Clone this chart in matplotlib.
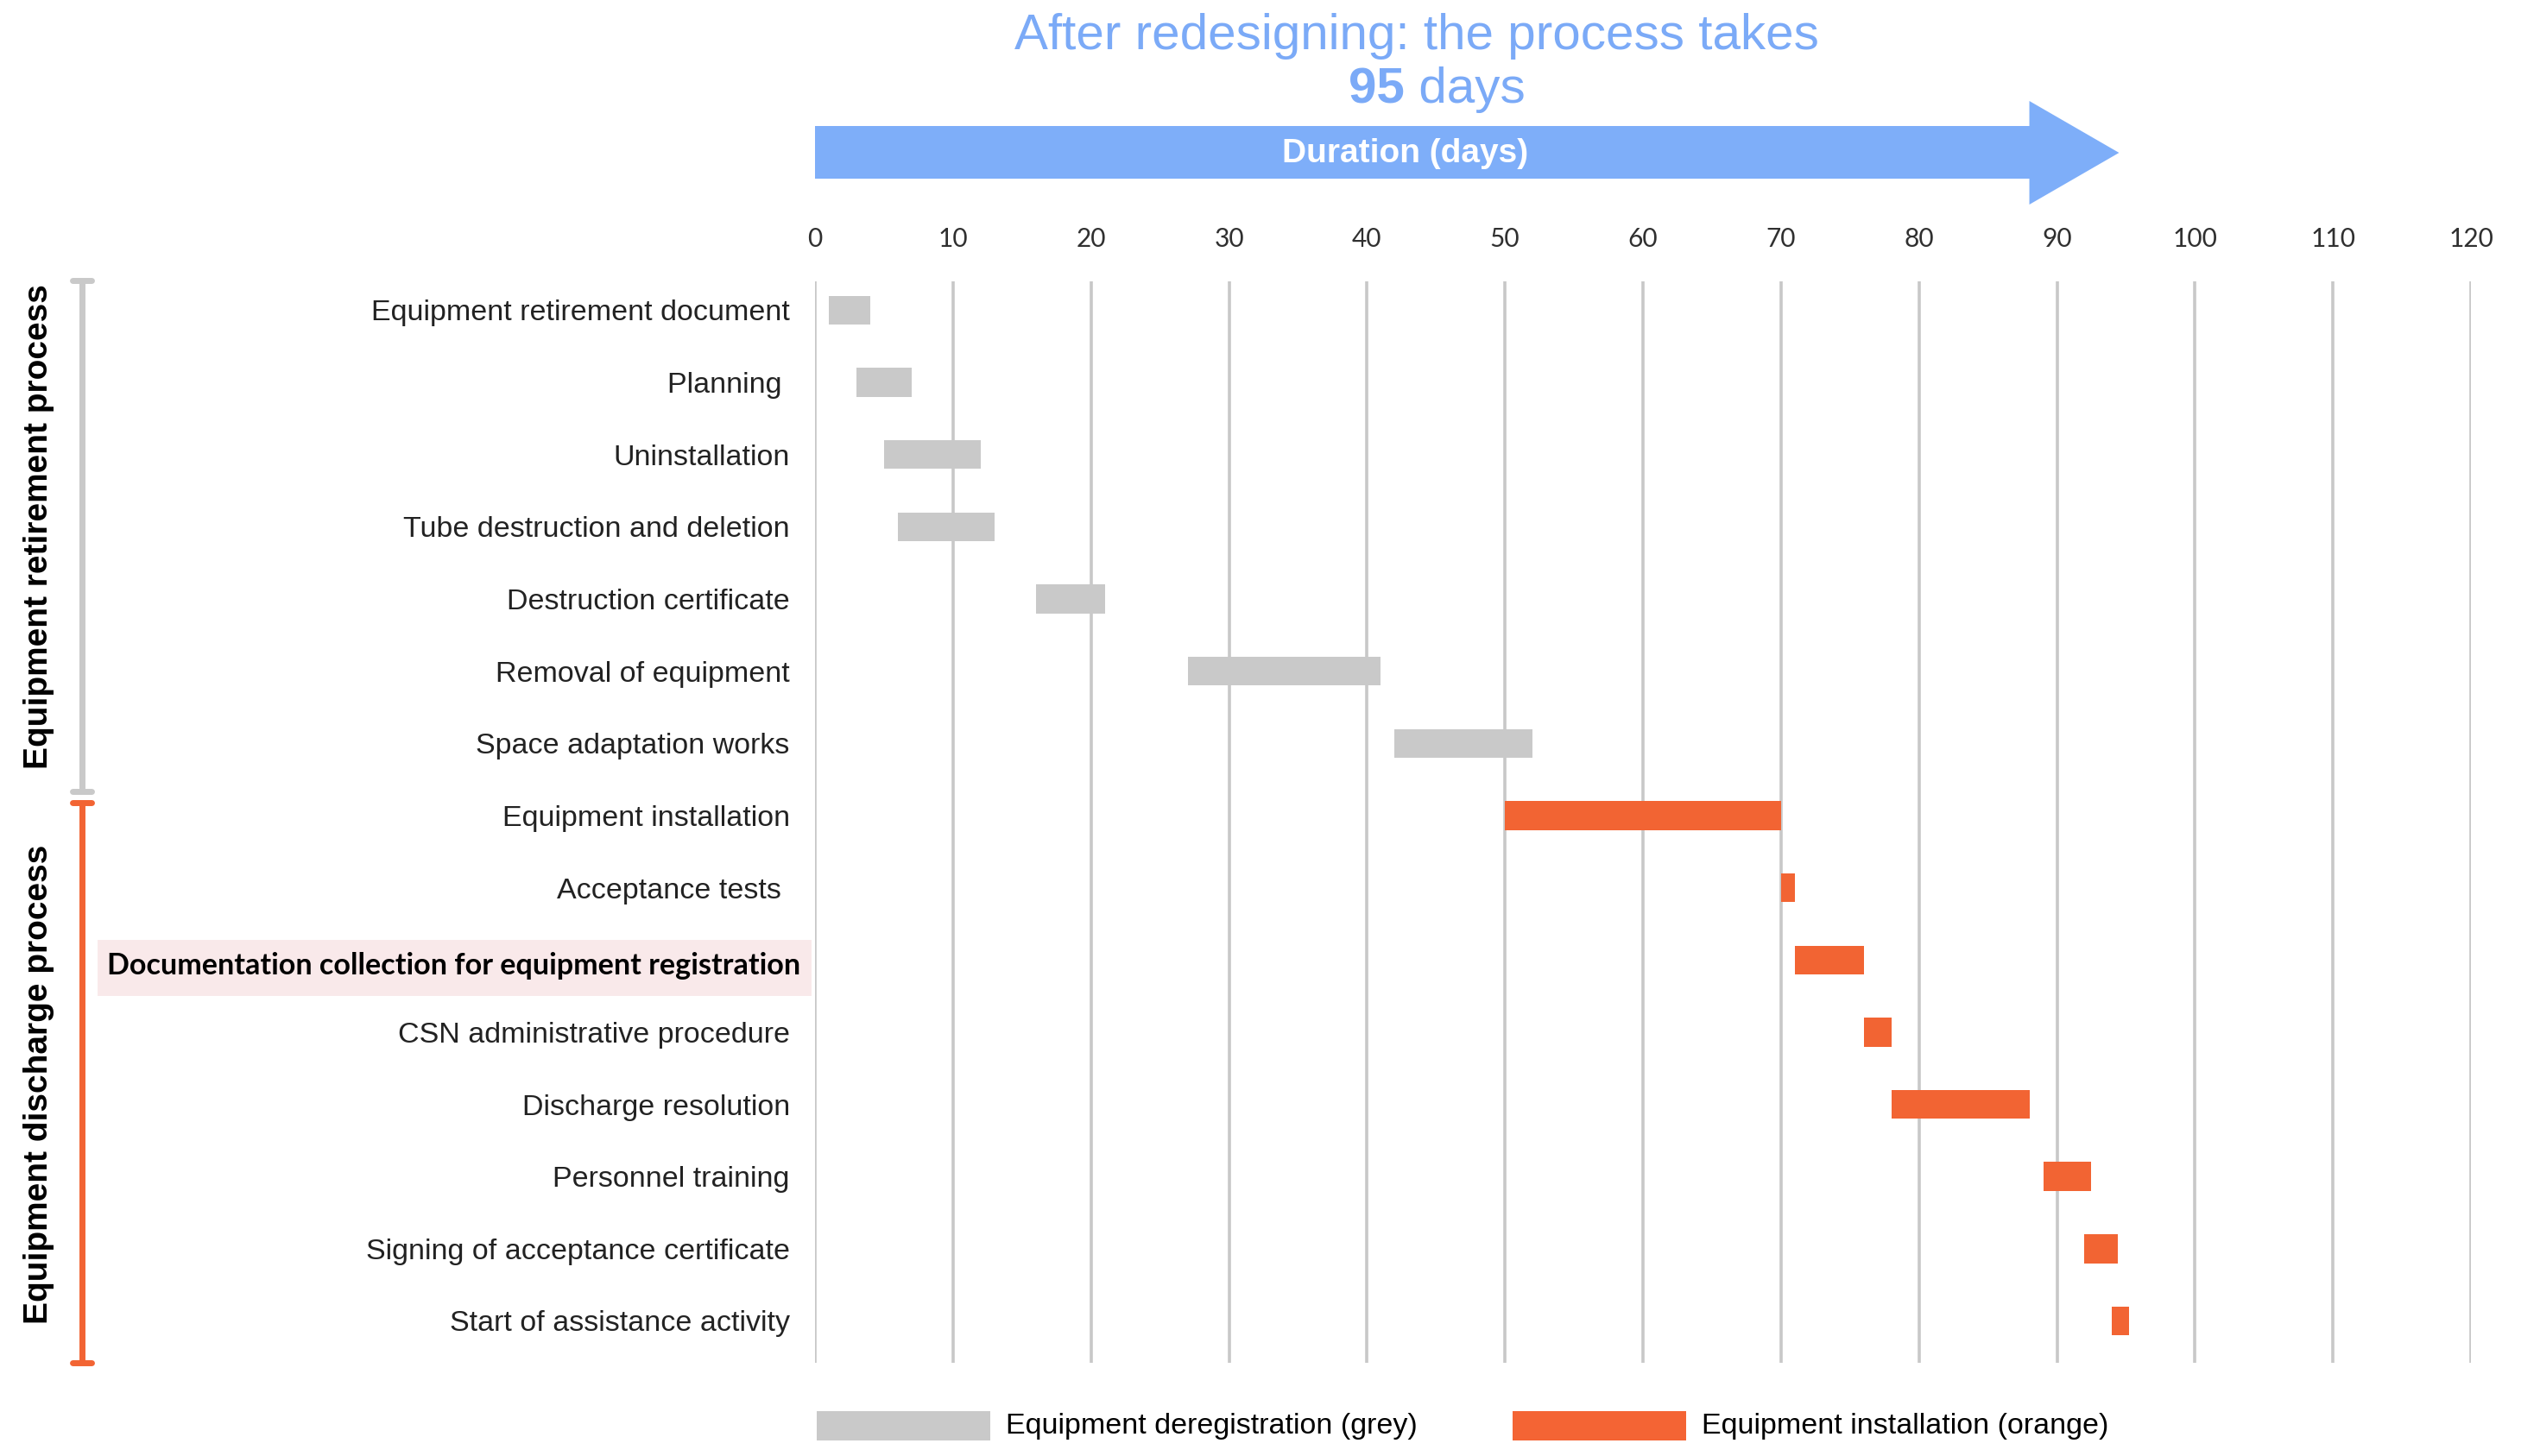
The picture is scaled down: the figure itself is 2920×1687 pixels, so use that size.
import matplotlib
matplotlib.use('Agg')
import matplotlib.pyplot as plt
from matplotlib.patches import Polygon, Rectangle
from matplotlib.transforms import blended_transform_factory

# ---------------- data ----------------
tasks = [
    "Equipment retirement document",
    "Planning ",
    "Uninstallation",
    "Tube destruction and deletion",
    "Destruction certificate",
    "Removal of equipment",
    "Space adaptation works",
    "Equipment installation",
    "Acceptance tests ",
    "Documentation collection for equipment registration",
    "CSN administrative procedure",
    "Discharge resolution",
    "Personnel training",
    "Signing of acceptance certificate",
    "Start of assistance activity",
]
starts = [1, 3, 5, 6, 16, 27, 42, 50, 70, 71, 76, 78, 89, 92, 94]
durations = [3, 4, 7, 7, 5, 14, 10, 20, 1, 5, 2, 10, 3.5, 2.4, 1.2]
phase = ["retire"] * 7 + ["install"] * 8
highlight_index = 9
x_ticks = list(range(0, 121, 10))
total_days = 95
groups = ["Equipment retirement process", "Equipment discharge process"]
legend_labels = ["Equipment deregistration (grey)", "Equipment installation (orange)"]

GREY = "#C9C9C9"
ORANGE = "#F26433"
BLUE = "#7EAEF9"
TITLE_BLUE = "#7BAAF7"
colors = [GREY if p == "retire" else ORANGE for p in phase]

# ---------------- figure ----------------
W, H = 2920, 1687
fig = plt.figure(figsize=(W / 100, H / 100), dpi=100)
ax = fig.add_axes([944 / W, 1 - 1579 / H, (2862 - 944) / W, (1579 - 326) / H])

def fy(px):
    return 1 - px / H

ax.set_xlim(0, 120)
ax.set_ylim(14.58, -0.4)
for s in ax.spines.values():
    s.set_visible(False)

for x in x_ticks:
    ax.axvline(x, color="#C8C8C8", lw=2.6, zorder=1)

ax.barh(range(len(tasks)), durations, left=starts, height=0.40, color=colors, zorder=3)

ax.xaxis.tick_top()
ax.set_xticks(x_ticks)
ax.set_xticklabels([str(t) for t in x_ticks], fontfamily="Lato", fontsize=21.5, color="#303030")
ax.tick_params(axis="x", length=0, pad=25)

ylabels = [t if i != highlight_index else "" for i, t in enumerate(tasks)]
ax.set_yticks(range(len(tasks)))
ax.set_yticklabels(ylabels, fontfamily="Liberation Sans", fontsize=24.5, color="#222222")
ax.tick_params(axis="y", length=0, pad=21)

by = blended_transform_factory(fig.transFigure, ax.transData)
bx = blended_transform_factory(ax.transData, fig.transFigure)

# highlighted label
ax.add_patch(Rectangle((113 / W, 8.72), (940 - 113) / W, 0.78, transform=by,
                       facecolor="#F9E9EA", edgecolor="none", clip_on=False, zorder=0))
ax.text(927 / W, 9.08, tasks[highlight_index], transform=by, ha="right", va="center",
        fontfamily="Lato", fontweight="bold", fontsize=24.6, color="black", clip_on=False)

# brackets
def bracket(y0, y1, color):
    xl = 95 / W
    ax.plot([xl, xl], [y0, y1], transform=by, color=color, lw=5, clip_on=False,
            solid_capstyle="butt")
    for yy in (y0, y1):
        ax.plot([84 / W, 106 / W], [yy, yy], transform=by, color=color, lw=5,
                clip_on=False, solid_capstyle="round")

bracket(-0.41, 6.66, GREY)
bracket(6.82, 14.58, ORANGE)

ax.text(45 / W, 3.0, groups[0], transform=by, rotation=90, ha="center", va="center",
        fontfamily="Liberation Sans", fontweight="bold", fontsize=28, color="black")
ax.text(45 / W, 10.72, groups[1], transform=by, rotation=90, ha="center", va="center",
        fontfamily="Liberation Sans", fontweight="bold", fontsize=28, color="black")

# arrow
arrow = Polygon([(0, fy(146)), (88, fy(146)), (88, fy(117)), (94.5, fy(177)),
                 (88, fy(237)), (88, fy(207)), (0, fy(207))],
                closed=True, transform=bx, facecolor=BLUE, edgecolor="none", clip_on=False)
ax.add_patch(arrow)
fig.text(1628 / W, fy(178), "Duration (days)", ha="center", va="center",
         fontfamily="Liberation Sans", fontweight="bold", fontsize=28, color="white")

# title
fig.text(1641 / W, fy(42), "After redesigning: the process takes", ha="center", va="center",
         fontfamily="Liberation Sans", fontsize=42, color=TITLE_BLUE)
fig.text(1627 / W, fy(104), str(total_days), ha="right", va="center",
         fontfamily="Liberation Sans", fontweight="bold", fontsize=42, color=TITLE_BLUE)
fig.text(1627 / W, fy(104), " days", ha="left", va="center",
         fontfamily="Liberation Sans", fontsize=42, color=TITLE_BLUE)

# legend
fig.patches.append(Rectangle((946 / W, fy(1669)), 201 / W, 34 / H, transform=fig.transFigure,
                             facecolor=GREY, edgecolor="none"))
fig.text(1165 / W, fy(1652), legend_labels[0], ha="left", va="center",
         fontfamily="Liberation Sans", fontsize=24.5, color="black")
fig.patches.append(Rectangle((1752 / W, fy(1669)), 201 / W, 34 / H, transform=fig.transFigure,
                             facecolor="#F46434", edgecolor="none"))
fig.text(1971 / W, fy(1652), legend_labels[1], ha="left", va="center",
         fontfamily="Liberation Sans", fontsize=24.5, color="black")

fig.savefig("out.png", dpi=100, facecolor="white")
